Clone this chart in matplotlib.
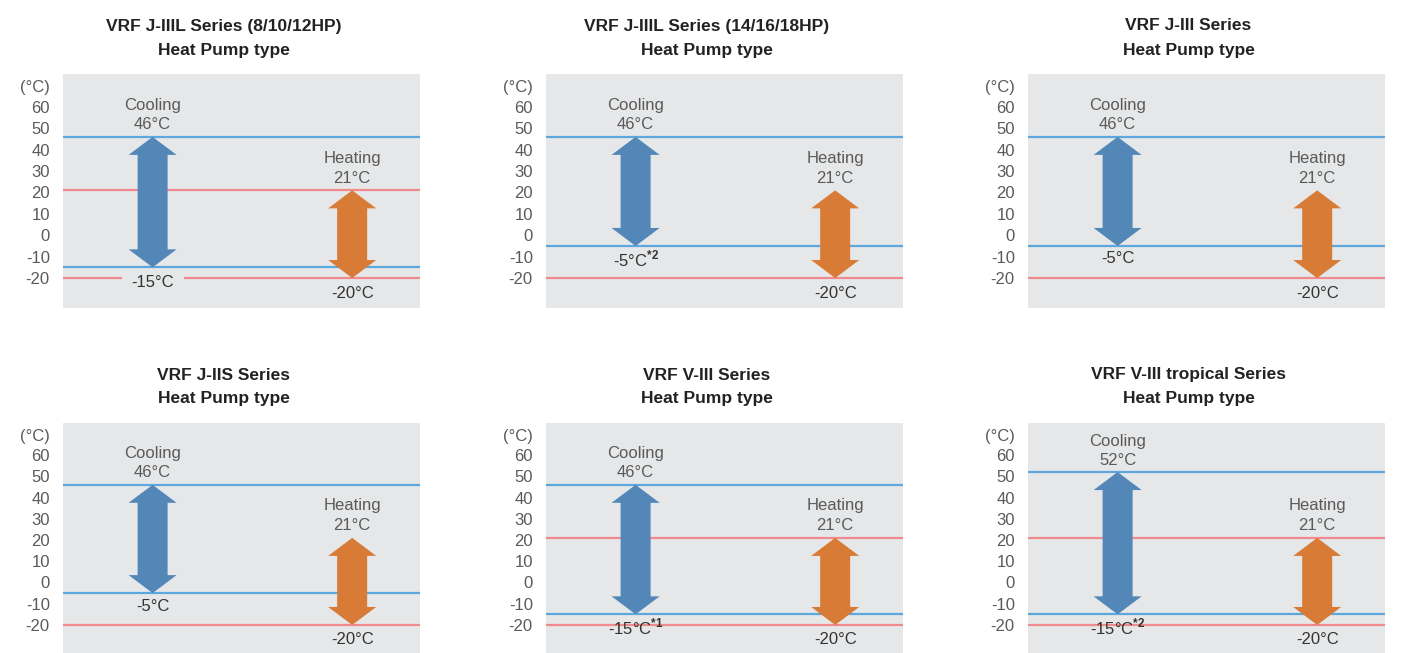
import matplotlib
matplotlib.use("Agg")
import matplotlib.pyplot as plt
import matplotlib.transforms as mtransforms

plt.rcParams["font.family"] = ["Liberation Sans", "DejaVu Sans"]
plt.rcParams["axes.unicode_minus"] = False
plt.rcParams["mathtext.fontset"] = "custom"
plt.rcParams["mathtext.rm"] = "Liberation Sans"
plt.rcParams["mathtext.bf"] = "Liberation Sans:bold"

# operating ranges (outdoor temperature, degC)
TITLES = [
    "VRF J-IIIL Series (8/10/12HP)",
    "VRF J-IIIL Series (14/16/18HP)",
    "VRF J-III Series",
    "VRF J-IIS Series",
    "VRF V-III Series",
    "VRF V-III tropical Series",
]
SUBTITLE = "Heat Pump type"
COOL_MAX = [46, 46, 46, 46, 46, 52]
COOL_MIN = [-15, -5, -5, -5, -15, -15]
COOL_MIN_NOTE = ["", "*2", "", "", "*1", "*2"]
HEAT_MAX = [21, 21, 21, 21, 21, 21]
HEAT_MIN = [-20, -20, -20, -20, -20, -20]
HEAT_MAX_LINE = [True, False, False, False, True, True]
TICKS = [60, 50, 40, 30, 20, 10, 0, -10, -20]

BG = "#E6E7E8"
BLUE_LINE = "#5CA8DE"
RED_LINE = "#F08A8F"
BLUE_ARROW = "#5287B8"
ORANGE_ARROW = "#D77B36"
TEXT_GRAY = "#5A5A5A"
TEXT_DARK = "#333333"
FS = 12

W, H = 1404, 653
COL_LEFT = [63, 546, 1028]
PANEL_W = 357
ROW_TOP = [74, 423]
ROW_H = [234, 230]
ROW_YLIM = [(-34.0, 75.4), (-33.2, 75.1)]


def double_arrow(ax, xc, lo, hi, color, px_per_deg):
    trans = mtransforms.blended_transform_factory(ax.transAxes, ax.transData)
    shaft = 15 / PANEL_W
    head = 24 / PANEL_W
    hl = 18 / px_per_deg
    xs = [xc, xc + head, xc + shaft, xc + shaft, xc + head,
          xc, xc - head, xc - shaft, xc - shaft, xc - head]
    ys = [hi, hi - hl, hi - hl, lo + hl, lo + hl,
          lo, lo + hl, lo + hl, hi - hl, hi - hl]
    ax.fill(xs, ys, color=color, transform=trans, lw=0, zorder=3)


def label(ax, x, y, text, dy, color, zorder=4, **kw):
    trans = mtransforms.blended_transform_factory(ax.transAxes, ax.transData)
    ax.annotate(text, xy=(x, y), xycoords=trans, xytext=(0, dy),
                textcoords="offset pixels", ha="center", va="center",
                fontsize=FS, color=color, zorder=zorder, **kw)


fig = plt.figure(figsize=(W / 100, H / 100), dpi=100)

for i, title in enumerate(TITLES):
    row, col = divmod(i, 3)
    left = COL_LEFT[col] / W
    bottom = 1 - (ROW_TOP[row] + ROW_H[row]) / H
    ax = fig.add_axes([left, bottom, PANEL_W / W, ROW_H[row] / H])
    ylo, yhi = ROW_YLIM[row]
    px_per_deg = ROW_H[row] / (yhi - ylo)
    ax.set_facecolor(BG)
    ax.set_xlim(0, 1)
    ax.set_ylim(ylo, yhi)
    for s in ax.spines.values():
        s.set_visible(False)
    ax.set_xticks([])
    ax.set_yticks(TICKS)
    ax.set_yticklabels([str(t) for t in TICKS])
    ax.tick_params(axis="y", length=0, pad=9.5, labelsize=FS, labelcolor=TEXT_GRAY)

    trans = mtransforms.blended_transform_factory(ax.transAxes, ax.transData)
    ax.annotate("(°C)", xy=(0, TICKS[0]), xycoords=trans, xytext=(-13, 19),
                textcoords="offset pixels", ha="right", va="center",
                fontsize=FS, color=TEXT_GRAY)

    # limit lines
    ax.axhline(COOL_MAX[i], color=BLUE_LINE, lw=1.6, zorder=2)
    ax.axhline(COOL_MIN[i], color=BLUE_LINE, lw=1.6, zorder=2)
    ax.axhline(HEAT_MIN[i], color=RED_LINE, lw=1.6, zorder=1)
    if HEAT_MAX_LINE[i]:
        ax.axhline(HEAT_MAX[i], color=RED_LINE, lw=1.6, zorder=1)

    cx, hx = 0.251, 0.81
    double_arrow(ax, cx, COOL_MIN[i], COOL_MAX[i], BLUE_ARROW, px_per_deg)
    double_arrow(ax, hx, HEAT_MIN[i], HEAT_MAX[i], ORANGE_ARROW, px_per_deg)

    label(ax, cx, COOL_MAX[i], "Cooling", 31, TEXT_GRAY)
    label(ax, cx, COOL_MAX[i], f"{COOL_MAX[i]}°C", 12, TEXT_GRAY)
    label(ax, hx, HEAT_MAX[i], "Heating", 32, TEXT_GRAY)
    label(ax, hx, HEAT_MAX[i], f"{HEAT_MAX[i]}°C", 12, TEXT_GRAY)

    low_text = f"{COOL_MIN[i]}°C"
    if COOL_MIN_NOTE[i]:
        low_text += r"$^{\mathbf{" + COOL_MIN_NOTE[i] + "}}$"
    if i == 0:
        # first panel: the label cuts a gap in the red line underneath
        label(ax, cx, COOL_MIN[i], low_text, -15, TEXT_DARK, zorder=1.5,
              bbox=dict(facecolor=BG, edgecolor="none", pad=7))
    else:
        label(ax, cx, COOL_MIN[i], low_text, -13, TEXT_DARK)
    label(ax, hx, HEAT_MIN[i], f"{HEAT_MIN[i]}°C", -15, TEXT_DARK)

    # two-line panel title
    tx = (COL_LEFT[col] + PANEL_W / 2 - 18) / W
    ty = ROW_TOP[row]
    fig.text(tx, 1 - (ty - 48) / H, title, ha="center", va="center",
             fontsize=12.5, fontweight="bold", color="#222222")
    fig.text(tx, 1 - (ty - 24) / H, SUBTITLE, ha="center", va="center",
             fontsize=12.5, fontweight="bold", color="#222222")

fig.savefig("out.png", dpi=100, facecolor="white")
